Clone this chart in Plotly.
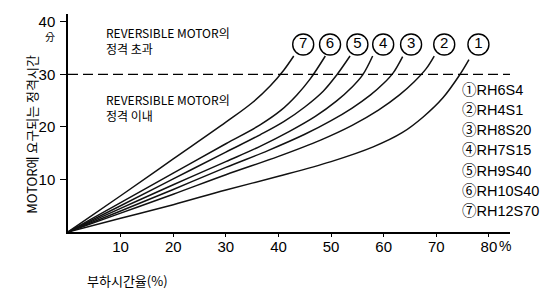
import plotly.graph_objects as go

# ---- data ----
names = ["RH6S4", "RH4S1", "RH8S20", "RH7S15", "RH9S40", "RH10S40", "RH12S70"]
circled = ["①", "②", "③", "④", "⑤", "⑥", "⑦"]

c1_x = [0, 10, 20, 30, 40, 50, 58, 63.5, 67.5, 71.3, 74.5, 76.2]
c1_y = [0, 2.6, 5.2, 8, 10.6, 13.4, 16.2, 18.9, 21.9, 25.6, 30, 32.8]
c2_x = [0, 10, 20, 30, 40, 48, 54, 59, 63, 65.8, 68, 69.6]
c2_y = [0, 3.6, 7.2, 10.9, 14.4, 17.5, 20.3, 23.2, 26.1, 28.6, 31, 33.5]
c3_x = [0, 10, 20, 30, 38, 45, 50, 54, 57.5, 60, 61.8, 63.6]
c3_y = [0, 4, 8.1, 12.3, 15.5, 18.6, 21.2, 23.6, 26.1, 28.3, 30.3, 33.4]
c4_x = [0, 10, 20, 30, 36.5, 42, 47, 51, 54, 56, 57.9]
c4_y = [0, 4.5, 9, 13.4, 16.3, 19.1, 22, 24.9, 27.6, 29.9, 33.5]
c5_x = [0, 10, 20, 30, 36.5, 41, 45, 48.5, 51, 53.6]
c5_y = [0, 5, 10.1, 15.2, 18.5, 21, 23.8, 26.8, 29.8, 33.5]
c6_x = [0, 10, 20, 30, 36.5, 40.5, 43.5, 46, 48.9]
c6_y = [0, 5.6, 11.2, 16.8, 20.4, 23.2, 26.1, 29.1, 33.5]
c7_x = [0, 10, 20, 30, 35, 38.5, 41, 42.9]
c7_y = [0, 6.9, 13.9, 20.9, 24.6, 27.9, 30.8, 33.5]

curves_x = [c1_x, c2_x, c3_x, c4_x, c5_x, c6_x, c7_x]
curves_y = [c1_y, c2_y, c3_y, c4_y, c5_y, c6_y, c7_y]

label_nums = ["1", "2", "3", "4", "5", "6", "7"]
label_x = [78, 71.5, 65.2, 59.9, 55, 49.8, 44.7]
label_y = [35.7] * 7

rated_limit = 30
x_ticks = [10, 20, 30, 40, 50, 60, 70, 80]
x_ticktext = ["10", "20", "30", "40", "50", "60", "70", "80"]
y_ticks = [10, 20, 30, 40]

# plot-area geometry (pixels) used to place paper-anchored texts
L, R, T, B = 67.5, 510, 14, 231.7
PW, PH = R - L, B - T


def px(x):
    return (x - L) / PW


def py(y):
    return (B - y) / PH


fig = go.Figure()
for xs, ys, nm in zip(curves_x, curves_y, names):
    fig.add_trace(go.Scatter(x=xs, y=ys, mode="lines", name=nm,
                             line=dict(color="#111", width=1.5, shape="spline", smoothing=1.0),
                             showlegend=False, hoverinfo="skip"))

fig.add_trace(go.Scatter(x=label_x, y=label_y, mode="markers+text", text=label_nums,
                         textposition="middle center",
                         textfont=dict(family="Liberation Sans, Arial", size=15, color="black"),
                         marker=dict(symbol="circle-open", size=21, color="black", line=dict(width=1.4)),
                         showlegend=False, hoverinfo="skip", cliponaxis=False))

fig.add_shape(type="line", xref="paper", yref="y", x0=0, x1=1, y0=rated_limit, y1=rated_limit,
              line=dict(color="black", width=1.3, dash="10px,5px"))

# legend text on the right
leg_top = 89.5
leg_step = 20.2
for i, (c, nm) in enumerate(zip(circled, names)):
    fig.add_annotation(xref="paper", yref="paper", x=px(460),
                       y=py(leg_top + i * leg_step),
                       text=c + nm, showarrow=False, xanchor="left", yanchor="middle",
                       font=dict(family="Liberation Sans, Noto Sans CJK KR", size=14.5, color="black"))

txtfont = dict(family="Liberation Sans Narrow, Noto Sans CJK KR", size=12, color="black")
fig.add_annotation(xref="paper", yref="paper", x=px(104), y=py(40.5),
                   text="REVERSIBLE MOTOR의<br>정격 초과",
                   showarrow=False, xanchor="left", yanchor="middle", align="left", font=txtfont)
fig.add_annotation(xref="paper", yref="paper", x=px(104), y=py(107.5),
                   text="REVERSIBLE MOTOR의<br>정격 이내",
                   showarrow=False, xanchor="left", yanchor="middle", align="left", font=txtfont)
fig.add_annotation(xref="paper", yref="paper", x=px(49), y=py(36), text="分",
                   showarrow=False, xanchor="center", yanchor="middle",
                   font=dict(family="Noto Sans CJK KR", size=10, color="black"))
fig.add_annotation(xref="paper", yref="paper", x=px(31), y=py(134),
                   text="MOTOR에 요구되는 정격시간", textangle=-90, showarrow=False,
                   xanchor="center", yanchor="middle",
                   font=dict(family="Noto Sans CJK KR", size=13, color="black"))
fig.add_annotation(xref="paper", yref="paper", x=px(85), y=py(280),
                   text="부하시간율(%)", showarrow=False, xanchor="left", yanchor="middle",
                   font=dict(family="Noto Sans CJK KR", size=13, color="black"))
fig.add_annotation(xref="paper", yref="paper", x=px(497), y=py(246),
                   text="%", showarrow=False, xanchor="left", yanchor="middle",
                   font=dict(family="Liberation Sans, Arial", size=14, color="black"))

fig.update_xaxes(range=[0, 84], tickvals=x_ticks, ticktext=x_ticktext, showgrid=False,
                 zeroline=False, showline=True, linecolor="black", linewidth=1.5,
                 ticks="outside", ticklen=3, tickcolor="black", automargin=False,
                 ticklabelstandoff=-3,
                 tickfont=dict(family="Liberation Sans, Arial", size=15, color="black"))
fig.update_yaxes(range=[0, 41.5], tickvals=y_ticks, showgrid=False, zeroline=False,
                 showline=True, linecolor="black", linewidth=1.5,
                 ticks="outside", ticklen=6, tickcolor="black", automargin=False,
                 ticklabelstandoff=2,
                 tickfont=dict(family="Liberation Sans, Arial", size=15, color="black"))

fig.update_layout(width=553, height=291, margin=dict(l=L, r=553 - R, t=T, b=291 - B),
                  plot_bgcolor="white", paper_bgcolor="white", showlegend=False)

fig.write_html("out.html", config={"displayModeBar": False},
               post_script="document.body.style.margin='0';document.body.style.padding='0';")
